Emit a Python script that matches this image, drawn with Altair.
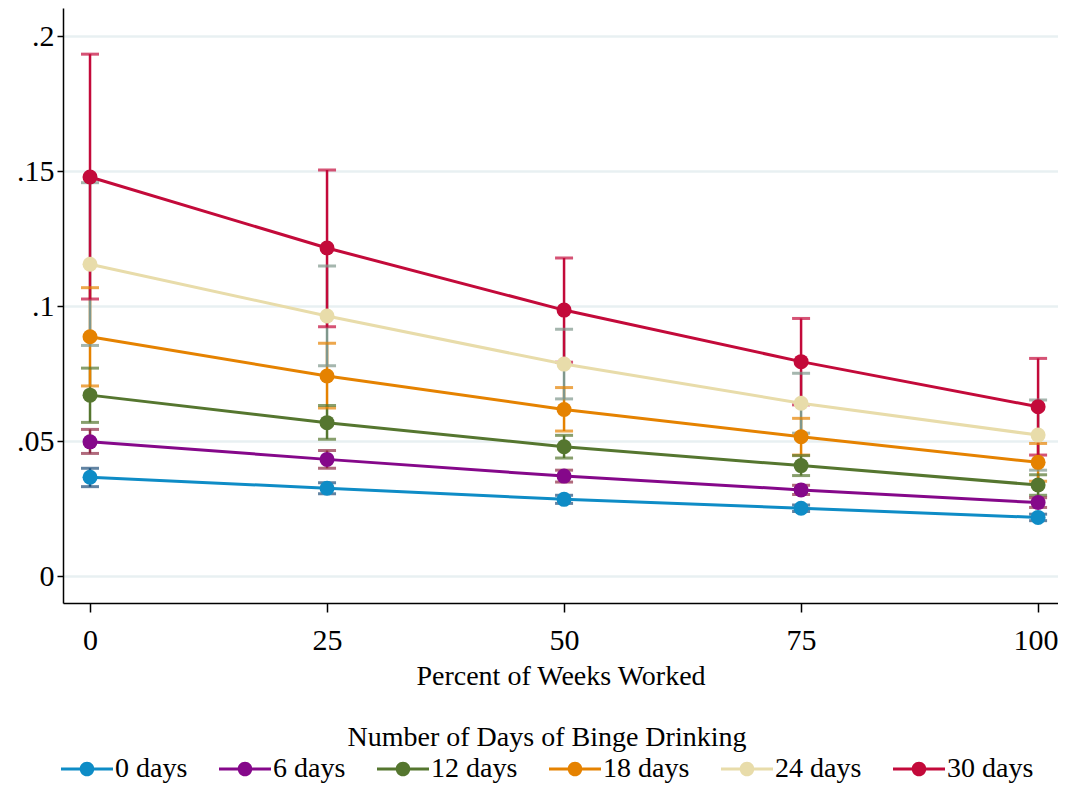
import altair as alt
import pandas as pd

weeks = [0, 25, 50, 75, 100]
groups = ["0 days", "6 days", "12 days", "18 days", "24 days", "30 days"]
line_colors = ["#0e8cc6", "#85088a", "#55762f", "#e58200", "#e8dcaa", "#c30a3a"]
ci_colors = ["#1e4f7b", "#8f2b45", "#55762f", "#e58200", "#7f978c", "#c30a3a"]

# predicted values per group
est = {
    "0 days":  [0.0366, 0.0325, 0.0284, 0.0251, 0.0217],
    "6 days":  [0.0497, 0.0432, 0.0370, 0.0319, 0.0272],
    "12 days": [0.0670, 0.0568, 0.0479, 0.0409, 0.0337],
    "18 days": [0.0886, 0.0741, 0.0617, 0.0516, 0.0421],
    "24 days": [0.1155, 0.0963, 0.0785, 0.0640, 0.0522],
    "30 days": [0.1478, 0.1215, 0.0985, 0.0794, 0.0627],
}
ci_low = {
    "0 days":  [0.0331, 0.0305, 0.0269, 0.0239, 0.0205],
    "6 days":  [0.0454, 0.0399, 0.0348, 0.0302, 0.0254],
    "12 days": [0.0569, 0.0507, 0.0437, 0.0372, 0.0299],
    "18 days": [0.0704, 0.0622, 0.0537, 0.0448, 0.0351],
    "24 days": [0.0854, 0.0779, 0.0656, 0.0529, 0.0392],
    "30 days": [0.1026, 0.0923, 0.0792, 0.0634, 0.0448],
}
ci_high = {
    "0 days":  [0.0399, 0.0345, 0.0299, 0.0263, 0.0229],
    "6 days":  [0.0543, 0.0465, 0.0392, 0.0336, 0.0290],
    "12 days": [0.0770, 0.0632, 0.0521, 0.0446, 0.0375],
    "18 days": [0.1068, 0.0862, 0.0698, 0.0584, 0.0491],
    "24 days": [0.1457, 0.1148, 0.0914, 0.0751, 0.0652],
    "30 days": [0.1933, 0.1504, 0.1178, 0.0954, 0.0806],
}

rows = []
for g in groups:
    for i, w in enumerate(weeks):
        rows.append({"group": g, "week": w, "est": est[g][i],
                     "lo": ci_low[g][i], "hi": ci_high[g][i]})
df = pd.DataFrame(rows)

FONT = "Liberation Serif"

x_enc = alt.X("week:Q",
              scale=alt.Scale(domain=[-2.85, 102.1], nice=False, zero=False),
              axis=alt.Axis(values=weeks, title="Percent of Weeks Worked", grid=False,
                            labelFont=FONT, labelFontSize=30, titleFont=FONT, titleFontSize=28,
                            labelAlign={"condition": {"test": "datum.value == 100", "value": "right"},
                                        "value": "center"},
                            labelOffset={"condition": {"test": "datum.value == 100", "value": 20},
                                         "value": 0},
                            tickSize=9, labelPadding=13, titlePadding=7))
y_scale = alt.Scale(domain=[-0.01, 0.2104], nice=False, zero=False)
y_axis = alt.Axis(values=[0, 0.05, 0.1, 0.15, 0.2], title=None, grid=True,
                  labelFont=FONT, labelFontSize=30,
                  labelExpr="datum.value == 0 ? '0' : replace(format(datum.value, '~g'), '0.', '.')",
                  tickSize=6, labelPadding=3)

ci_color = alt.Color("group:N", scale=alt.Scale(domain=groups, range=ci_colors), legend=None)
main_scale = alt.Scale(domain=groups, range=line_colors)

base = alt.Chart(df)

rules = base.mark_rule(strokeWidth=2.5).encode(
    x=x_enc, y=alt.Y("lo:Q", scale=y_scale, axis=y_axis), y2="hi:Q", color=ci_color)
cap_lo = base.mark_tick(orient="horizontal", size=18, thickness=3).encode(
    x="week:Q", y=alt.Y("lo:Q", scale=y_scale), color=ci_color)
cap_hi = base.mark_tick(orient="horizontal", size=18, thickness=3).encode(
    x="week:Q", y=alt.Y("hi:Q", scale=y_scale), color=ci_color)
lines = base.mark_line(strokeWidth=3).encode(
    x="week:Q", y=alt.Y("est:Q", scale=y_scale),
    color=alt.Color("group:N", scale=main_scale, legend=None),
    detail="group:N")

legend_symbol = ("M-1,-0.06 L1,-0.06 L1,0.06 L-1,0.06 Z "
                 "M0.28,0 A0.28,0.28 0 1,1 -0.28,0 A0.28,0.28 0 1,1 0.28,0 Z")
points = base.mark_circle(size=225, opacity=1).encode(
    x="week:Q", y=alt.Y("est:Q", scale=y_scale),
    color=alt.Color("group:N", scale=main_scale, sort=groups,
                    legend=alt.Legend(title="Number of Days of Binge Drinking",
                                      orient="none", legendX=-2, legendY=716,
                                      direction="horizontal", columns=6,
                                      symbolType=legend_symbol, symbolSize=2704,
                                      symbolStrokeWidth=0, symbolOpacity=1,
                                      labelFont=FONT, labelFontSize=28, labelColor="black",
                                      labelLimit=0, labelOffset=2, columnPadding=31,
                                      titleFont=FONT, titleFontSize=28, titleFontWeight="normal",
                                      titleColor="black", titleAnchor="middle", titleLimit=0,
                                      titlePadding=-9)))

chart = alt.layer(rules, cap_lo, cap_hi, lines, points).resolve_scale(
    color="independent"
).properties(
    width=995, height=595,
    autosize=alt.AutoSizeParams(type="none"),
    padding={"left": 55, "top": 0, "right": 0, "bottom": 182},
    background="white",
).configure(font=FONT).configure_view(stroke=None).configure_axis(
    labelFont=FONT, labelColor="black",
    titleFont=FONT, titleFontWeight="normal", titleColor="black",
    domainColor="black", domainWidth=1.5, tickColor="black", tickWidth=1.5,
    gridColor="#e8f0f2", gridWidth=2.5,
)

chart.save("out.html", embed_options={"renderer": "svg", "actions": False})
